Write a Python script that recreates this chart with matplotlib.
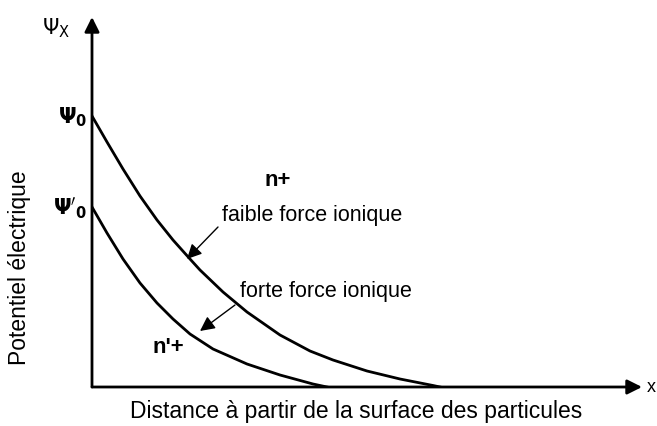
import matplotlib
matplotlib.use("Agg")
import matplotlib.pyplot as plt

plt.rcParams['font.family'] = ['Liberation Sans', 'DejaVu Sans']

# potentiel, faible force ionique (n+)
x_faible = [0.0, 0.15, 0.31, 0.48, 0.65, 0.81, 0.98, 1.08, 1.31, 1.55,
            1.88, 2.18, 2.41, 2.75, 3.08, 3.41, 3.48]
y_faible = [2.71, 2.45, 2.18, 1.91, 1.67, 1.47, 1.28, 1.17, 0.95, 0.75,
            0.52, 0.36, 0.27, 0.16, 0.08, 0.015, 0.0]

# potentiel, forte force ionique (n'+)
x_forte = [0.0, 0.15, 0.31, 0.48, 0.65, 0.81, 0.98, 1.21, 1.55, 1.88, 2.21, 2.35]
y_forte = [1.80, 1.54, 1.28, 1.04, 0.84, 0.68, 0.53, 0.38, 0.23, 0.12, 0.03, 0.0]

psi0 = y_faible[0]
psi0b = y_forte[0]

fig = plt.figure(figsize=(6.57, 4.27), dpi=100)
ax = fig.add_axes([92/657, 39/427, 558/657, 370/427])
ax.set_xlim(0, 5.58)
ax.set_ylim(0, 3.70)
ax.axis('off')

# axes avec fleches
ax.annotate('', xy=(5.50, 0), xytext=(0, 0),
            arrowprops=dict(arrowstyle='-|>', lw=2, color='black',
                            mutation_scale=22, shrinkA=0, shrinkB=0))
ax.annotate('', xy=(0, 3.70), xytext=(0, 0),
            arrowprops=dict(arrowstyle='-|>', lw=2, color='black',
                            mutation_scale=22, shrinkA=0, shrinkB=0))

ax.plot(x_faible, y_faible, color='black', lw=2, solid_joinstyle='round')
ax.plot(x_forte, y_forte, color='black', lw=2, solid_joinstyle='round')

ax.text(-0.05, psi0, r'$\mathbf{\Psi_0}$', ha='right', va='center', fontsize=15)
ax.text(-0.05, psi0b, r"$\mathbf{\Psi'_0}$", ha='right', va='center', fontsize=15)
ax.text(-0.22, 3.60, r'$\Psi_{\rm X}$', ha='right', va='center', fontsize=15)

ax.text(1.73, 2.08, 'n+', fontsize=16, fontweight='bold', va='center')
ax.text(0.60, 0.40, "n'+", fontsize=16, fontweight='bold', va='center')

ax.text(1.30, 1.73, 'faible force ionique', fontsize=15.5, va='center')
ax.annotate('', xy=(0.95, 1.28), xytext=(1.26, 1.60),
            arrowprops=dict(arrowstyle='-|>', color='black', lw=1,
                            mutation_scale=22, shrinkA=0, shrinkB=0))
ax.text(1.48, 0.96, 'forte force ionique', fontsize=15.5, va='center')
ax.annotate('', xy=(1.08, 0.56), xytext=(1.43, 0.82),
            arrowprops=dict(arrowstyle='-|>', color='black', lw=1,
                            mutation_scale=22, shrinkA=0, shrinkB=0))

fig.text(20/657, 0.372, 'Potentiel électrique', rotation=90,
         ha='center', va='center', fontsize=16.5)
fig.text(356/657, 1 - 412/427, 'Distance à partir de la surface des particules',
         ha='center', va='center', fontsize=16.5)
fig.text(656/657, 1 - 388/427, 'x', ha='right', va='center', fontsize=13)

fig.savefig('out.png', dpi=100)
